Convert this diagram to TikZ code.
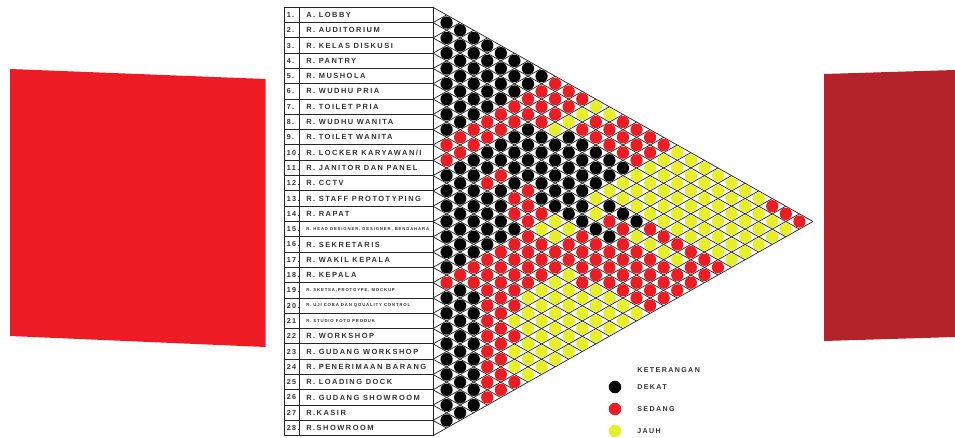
\documentclass[tikz,border=0pt]{standalone}
\usepackage{fontspec}
\setmainfont{Liberation Sans}
\newfontfamily\lblfont[LetterSpace=20]{Liberation Sans}
\usetikzlibrary{positioning}

\definecolor{cD}{HTML}{050505}
\definecolor{cS}{HTML}{EC1C24}
\definecolor{cJ}{HTML}{E6F02A}
\definecolor{panelL}{HTML}{ED1C24}
\definecolor{panelR}{HTML}{B4232A}
\definecolor{txt}{HTML}{333333}

\newcommand{\kecil}[1]{{\fontsize{3.2}{3.6}\selectfont #1}}

\begin{document}
\begin{tikzpicture}[x=0.75pt, y=-0.75pt, line join=round,
    frame/.style={draw=black!85, line width=0.75pt},
    grid/.style={draw=black!85, line width=0.55pt},
    roomtext/.style={anchor=west, inner sep=0pt, text=txt, font=\lblfont\bfseries\fontsize{5.6}{6}\selectfont},
    numtext/.style={anchor=west, inner sep=0pt, text=txt, font=\lblfont\bfseries\fontsize{5.4}{6}\selectfont},
    legtext/.style={anchor=west, inner sep=0pt, text=txt, font=\lblfont\bfseries\fontsize{5.3}{6}\selectfont}]
    \useasboundingbox (0,0) rectangle (955,438);

    % side panels
    \fill[panelL] (10,69) -- (265.5,79) -- (265.5,347) -- (10,336) -- cycle;
    \fill[panelR] (824,74) -- (955,70) -- (955,337) -- (824,341) -- cycle;

    % room table
    \draw[frame] (284,7.3) rectangle (433,435.7);
    \draw[frame] (299.5,7.3) -- (299.5,435.7);
    \foreach \k in {1,...,27}
        \draw[frame] (284,{7.3+15.3*\k}) -- (433,{7.3+15.3*\k});

    \foreach \name [count=\i] in {A. LOBBY, R. AUDITORIUM, R. KELAS DISKUSI, R. PANTRY, R. MUSHOLA,
        R. WUDHU PRIA, R. TOILET PRIA, R. WUDHU WANITA, R. TOILET WANITA, R. LOCKER KARYAWAN/I,
        R. JANITOR DAN PANEL, R. CCTV, R. STAFF PROTOTYPING, R. RAPAT,
        {\kecil{R. HEAD DESIGNER, DESIGNER, BENDAHARA}}, R. SEKRETARIS, R. WAKIL KEPALA, R. KEPALA,
        {\kecil{R. SKETSA,PROTOYPE, MOCKUP}}, {\kecil{R. UJI COBA DAN QOUALITY CONTROL}},
        {\kecil{R. STUDIO FOTO PRODUK}}, R. WORKSHOP, R. GUDANG WORKSHOP, R. PENERIMAAN BARANG,
        R. LOADING DOCK, R. GUDANG SHOWROOM, R.KASIR, R.SHOWROOM} {
        \node[numtext] (n\i) at (286.5,{7.3+15.3*(\i-0.5)}) {\i\ifnum\i<21 .\else\ifnum\i=28 .\fi\fi};
        \node[roomtext] (r\i) at (306,{7.3+15.3*(\i-0.5)}) {\name};
    }

    % relation grid
    \foreach \k in {0,...,28} {
        \draw[grid] (433,{7.3+15.3*\k}) -- ++({(28-\k)*13.57},{(28-\k)*7.65});
        \draw[grid] (433,{7.3+15.3*\k}) -- ++({\k*13.57},{-\k*7.65});
    }

    % relations: D = dekat, S = sedang, J = jauh
    \foreach \row [count=\i] in {
        {D,D,D,D,D,D,D,D,S,S,S,J,J,S,S,S,S,J,J,J,J,J,J,J,S,S,S},
        {D,D,D,D,D,D,D,S,S,S,J,S,S,S,S,S,J,J,J,J,J,J,J,J,J,J},
        {D,D,D,D,D,D,S,S,S,J,S,S,S,S,S,J,J,J,J,J,J,J,J,J,J},
        {D,D,D,D,D,S,S,S,J,D,D,D,D,D,J,J,J,J,J,J,J,J,J,J},
        {D,D,D,D,S,S,D,D,D,D,D,D,D,J,J,J,J,J,J,J,J,J,J},
        {D,D,D,S,S,D,D,D,D,D,D,D,J,J,J,J,J,J,J,J,J,J},
        {D,D,S,S,D,D,D,D,D,D,D,J,D,D,D,S,S,S,S,S,S},
        {D,S,S,D,D,D,D,D,D,D,D,J,S,S,J,J,J,J,S,S},
        {S,S,D,D,S,D,S,D,D,D,D,D,D,S,S,S,S,S,S},
        {S,D,D,S,D,S,S,S,J,J,S,S,S,S,S,S,S,S},
        {D,D,D,D,D,S,S,J,J,S,S,S,S,S,S,S,S},
        {D,D,D,D,D,D,S,S,S,S,S,S,S,S,S,S},
        {D,D,D,D,D,S,S,S,S,J,S,J,J,J,J},
        {D,D,D,D,S,S,S,S,J,J,J,J,J,J},
        {D,D,D,S,S,S,S,J,J,J,J,J,J},
        {D,D,S,S,S,S,J,J,J,J,J,J},
        {D,S,S,S,S,S,J,J,J,J,J},
        {S,D,D,S,S,J,J,J,J,J},
        {D,D,D,S,S,S,J,J,J},
        {D,D,D,S,S,J,J,J},
        {D,D,D,S,S,J,J},
        {D,D,D,S,S,S},
        {D,D,D,S,S},
        {D,D,D,S},
        {D,D,D},
        {D,D},
        {D}} {
        \foreach \c [count=\d] in \row
            \fill[fill=c\c] ({433+13.57*\d},{7.3+15.3*(\i-0.5+\d/2)}) circle[radius=4.6pt];
    }

    % legend
    \node[legtext] (ket) at (637,370) {KETERANGAN};
    \foreach \c/\lbl [count=\n] in {D/DEKAT, S/SEDANG, J/JAUH} {
        \fill[fill=c\c] (615,{365+22*\n}) circle[radius=4.7pt];
        \node[legtext] (leg\n) at (637,{365+22*\n}) {\lbl};
    }
\end{tikzpicture}
\end{document}
